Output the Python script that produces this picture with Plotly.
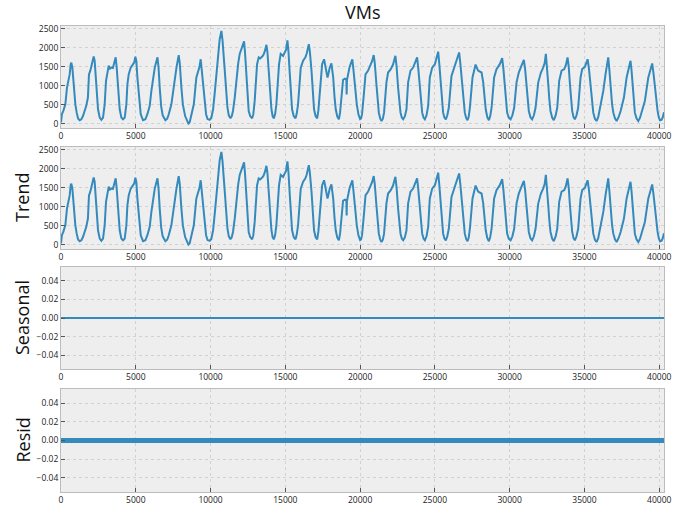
import plotly.graph_objects as go
from plotly.subplots import make_subplots

# Key points read from the observed series (minute index, VM count)
OBS_X = [
    0, 60, 150, 290, 400, 470, 580, 650, 690, 760, 850, 960, 1050, 1140, 1250, 1360, 1470,
    1580, 1690, 1800, 1870, 1960, 2100, 2185, 2250, 2320, 2410, 2475, 2590, 2700, 2810,
    2920, 3010, 3100, 3190, 3280, 3370, 3470, 3590, 3657, 3724, 3813, 3925, 4036, 4148, 4260,
    4370, 4440, 4527, 4660, 4817, 4900, 4973, 5040, 5107, 5218, 5330, 5486, 5642,
    5776, 5932, 6043, 6150, 6270, 6450, 6520, 6600, 6700, 6800, 6980, 7100,
    7200, 7380, 7500, 7600, 7720, 7870, 7940, 8050, 8150, 8300, 8420, 8520, 8600,
    8720, 8880, 9050, 9170, 9260, 9340, 9400, 9500, 9600, 9700, 9800, 9940, 10050,
    10170, 10300, 10390, 10500, 10610, 10725, 10800, 10950, 11050, 11130, 11220, 11330, 11420,
    11500, 11620, 11730, 11850, 11950, 12060, 12160, 12240, 12300, 12400, 12480, 12550, 12650, 12780, 12860,
    12950, 13110, 13220, 13320, 13400, 13520, 13620, 13735, 13800, 13890, 13980, 14070, 14150, 14230, 14320,
    14400, 14580, 14690, 14850, 14960, 15050, 15140, 15210, 15300, 15380, 15450, 15560, 15680, 15760,
    15850, 16030, 16190, 16340, 16430, 16570, 16640, 16750, 16840, 16920, 17020, 17130, 17210,
    17300, 17460, 17590, 17670, 17750, 17820, 17900, 17970, 18080, 18140, 18200, 18290, 18370, 18470, 18580, 18660,
    18750, 18860, 18980, 19080, 19100, 19120, 19300, 19480, 19560, 19660, 19780, 19890, 20000, 20060,
    20130, 20270, 20360, 20535, 20710, 20800, 20910, 20980, 21090, 21170, 21250, 21340, 21430, 21520,
    21600, 21760, 21870, 22050, 22200, 22360, 22440, 22540, 22620, 22700, 22790, 22880, 22990,
    23100, 23210, 23370, 23545, 23700, 23810, 23880, 23990, 24070, 24150, 24240, 24330, 24440,
    24550, 24660, 24820, 25000, 25100, 25220, 25290, 25400, 25480, 25550, 25640, 25730, 25830,
    25930, 26110, 26290, 26450, 26620, 26700, 26820, 26910, 27000, 27090, 27180, 27260,
    27340, 27515, 27640, 27720, 27890, 28000, 28120, 28230, 28320, 28400, 28500, 28610, 28700,
    28790, 28960, 29120, 29340, 29500, 29580, 29680, 29760, 29830, 29940, 30060, 30180,
    30300, 30460, 30610, 30790, 30950, 31030, 31130, 31200, 31280, 31390, 31500, 31620,
    31730, 31910, 32090, 32240, 32340, 32420, 32500, 32580, 32650, 32730, 32840, 32950, 33070,
    33180, 33310, 33470, 33650, 33760, 33870, 33950, 34030, 34100, 34180, 34270, 34360, 34470,
    34580, 34740, 34850, 35030, 35120, 35210, 35300, 35410, 35500, 35590, 35700, 35810, 35920,
    36030, 36150, 36260, 36410, 36590, 36670, 36770, 36850, 36930, 37040, 37150, 37280,
    37420, 37640, 37820, 37950, 38080, 38150, 38220, 38300, 38370, 38480, 38600, 38710,
    38820, 39040, 39270, 39400, 39530, 39610, 39710, 39800, 39890, 39970, 40050, 40150, 40230, 40319,
]
OBS_V = [
    30, 250, 330, 510, 950, 1090, 1300, 1570, 1610, 1480, 950, 510, 290, 135, 90, 115, 200,
    335, 470, 690, 1300, 1400, 1620, 1770, 1660, 1300, 690, 380, 160, 100, 160,
    510, 1130, 1300, 1530, 1450, 1480, 1470, 1660, 1750, 1480, 865, 380, 160, 115, 160,
    510, 1040, 1300, 1480, 1570, 1620, 1770, 1650, 1220, 600, 250, 90, 115,
    250, 470, 865, 1200, 1480, 1750, 1500, 950, 450, 220, 90, 130,
    240, 510, 850, 1220, 1480, 1810, 1600, 950, 500, 200, 80, 0, 30,
    250, 510, 1220, 1400, 1500, 1700, 1450, 950, 480, 250, 120, 100, 150,
    380, 900, 1300, 1920, 2230, 2450, 2200, 1400, 800, 420, 220, 140, 200,
    335, 700, 1220, 1600, 1840, 1970, 2050, 2170, 1900, 1300, 700, 335, 200, 140, 250,
    600, 1570, 1750, 1720, 1750, 1800, 1900, 2080, 1900, 1400, 800, 380, 200, 140, 260,
    510, 1570, 1840, 1790, 1880, 1950, 2200, 1900, 1300, 700, 380, 200, 140, 260,
    510, 1480, 1660, 1750, 1850, 2100, 1900, 1400, 800, 380, 200, 140, 350,
    860, 1570, 1700, 1500, 1300, 1220, 1350, 1480, 1590, 1450, 1220, 700, 380, 190, 115, 290,
    690, 1160, 1190, 1170, 770, 1150, 1500, 1700, 1400, 980, 500, 240, 120, 140,
    250, 865, 1300, 1400, 1570, 1650, 1810, 1600, 1040, 600, 290, 140, 70, 130,
    290, 1090, 1350, 1440, 1560, 1790, 1500, 950, 550, 290, 160, 115, 190,
    380, 1090, 1400, 1480, 1620, 1750, 1500, 950, 550, 290, 160, 115, 220,
    470, 1220, 1480, 1570, 1700, 1900, 1600, 1040, 550, 290, 160, 115, 220,
    420, 1260, 1480, 1660, 1880, 1600, 1040, 550, 290, 150, 90, 180,
    420, 1220, 1450, 1560, 1400, 1380, 1350, 1090, 650, 380, 180, 90, 200,
    420, 1220, 1440, 1570, 1730, 1450, 950, 550, 290, 160, 115, 220,
    420, 1090, 1350, 1530, 1680, 1450, 1040, 650, 335, 170, 115, 220,
    420, 1090, 1350, 1480, 1600, 1840, 1500, 1040, 650, 335, 160, 90, 210,
    420, 1130, 1400, 1440, 1550, 1750, 1500, 1040, 650, 335, 170, 115, 220,
    420, 1220, 1440, 1500, 1580, 1700, 1450, 950, 550, 290, 130, 70, 170,
    380, 600, 865, 1310, 1750, 1400, 865, 500, 290, 140, 70, 170,
    335, 690, 1220, 1450, 1660, 1400, 950, 550, 290, 140, 70, 150,
    290, 600, 1220, 1400, 1590, 1350, 950, 580, 335, 170, 90, 100, 160, 300,
]
assert len(OBS_X) == len(OBS_V)

# Trend equals the observed series in this decomposition
TREND_X = OBS_X
TREND_V = OBS_V
# Seasonal and residual components are zero everywhere
SEAS_X = [0, 40319]
SEAS_V = [0, 0]
RESID_X = [0, 40319]
RESID_V = [0, 0]

X_TICKS = [0, 5000, 10000, 15000, 20000, 25000, 30000, 35000, 40000]
Y_TICKS_MAIN = [0, 500, 1000, 1500, 2000, 2500]
Y_TICKS_SMALL = [-0.04, -0.02, 0.0, 0.02, 0.04]
PANEL_LABELS = ["Trend", "Seasonal", "Resid"]
TITLE = "VMs"

W, H = 694, 508
COLOR = "#348ABD"

fig = make_subplots(rows=4, cols=1)

fig.add_trace(go.Scatter(x=OBS_X, y=OBS_V, mode="lines",
                         line=dict(color=COLOR, width=2)), row=1, col=1)
fig.add_trace(go.Scatter(x=TREND_X, y=TREND_V, mode="lines",
                         line=dict(color=COLOR, width=2)), row=2, col=1)
fig.add_trace(go.Scatter(x=SEAS_X, y=SEAS_V, mode="lines",
                         line=dict(color=COLOR, width=2)), row=3, col=1)
fig.add_trace(go.Scatter(x=RESID_X, y=RESID_V, mode="lines",
                         line=dict(color=COLOR, width=5)), row=4, col=1)

# panel pixel boxes (top, bottom)
boxes = [(26, 128), (147, 249), (267, 369), (389, 492)]
xl, xr = 61, 664
tickfont = dict(family="Open Sans, DejaVu Sans, sans-serif", size=8.5, color="#222")

common_axis = dict(
    showline=True, mirror=True, linecolor="#bcbcbc", linewidth=1,
    showgrid=True, gridcolor="#d2d2d2", gridwidth=1, griddash="dot",
    ticks="inside", ticklen=4, tickcolor="#555", tickwidth=1,
    zeroline=False, tickfont=tickfont, automargin=False,
)

for i, (top, bot) in enumerate(boxes):
    n = "" if i == 0 else str(i + 1)
    fig.layout["xaxis" + n].update(
        domain=[xl / W, xr / W], range=[0, 40319],
        tickvals=X_TICKS, ticktext=[str(v) for v in X_TICKS], **common_axis)
    if i < 2:
        fig.layout["yaxis" + n].update(
            domain=[1 - bot / H, 1 - top / H], range=[-115, 2578],
            tickvals=Y_TICKS_MAIN, ticktext=[str(v) for v in Y_TICKS_MAIN],
            **common_axis)
    else:
        fig.layout["yaxis" + n].update(
            domain=[1 - bot / H, 1 - top / H], range=[-0.055, 0.055],
            tickvals=Y_TICKS_SMALL,
            ticktext=[f"{v:.2f}".replace("-", "\u2212") for v in Y_TICKS_SMALL],
            **common_axis)

annotations = [dict(text=TITLE, x=363 / W, y=1 - 12 / H, xref="paper", yref="paper",
                    showarrow=False, xanchor="center", yanchor="middle",
                    font=dict(family="Open Sans, sans-serif", size=18, color="#111"))]
for lab, (top, bot) in zip(PANEL_LABELS, boxes[1:]):
    annotations.append(dict(text=lab, x=22 / W, y=1 - (top + bot) / 2 / H,
                            xref="paper", yref="paper", showarrow=False,
                            xanchor="center", yanchor="middle", textangle=-90,
                            font=dict(family="Open Sans, sans-serif", size=18, color="#111")))

fig.update_layout(
    width=W, height=H, margin=dict(l=0, r=0, t=0, b=0),
    paper_bgcolor="white", plot_bgcolor="#eeeeee",
    showlegend=False, annotations=annotations,
)

fig.write_html("out.html", config={"displayModeBar": False},
               post_script="document.body.style.margin='0';document.body.style.overflow='hidden';")
